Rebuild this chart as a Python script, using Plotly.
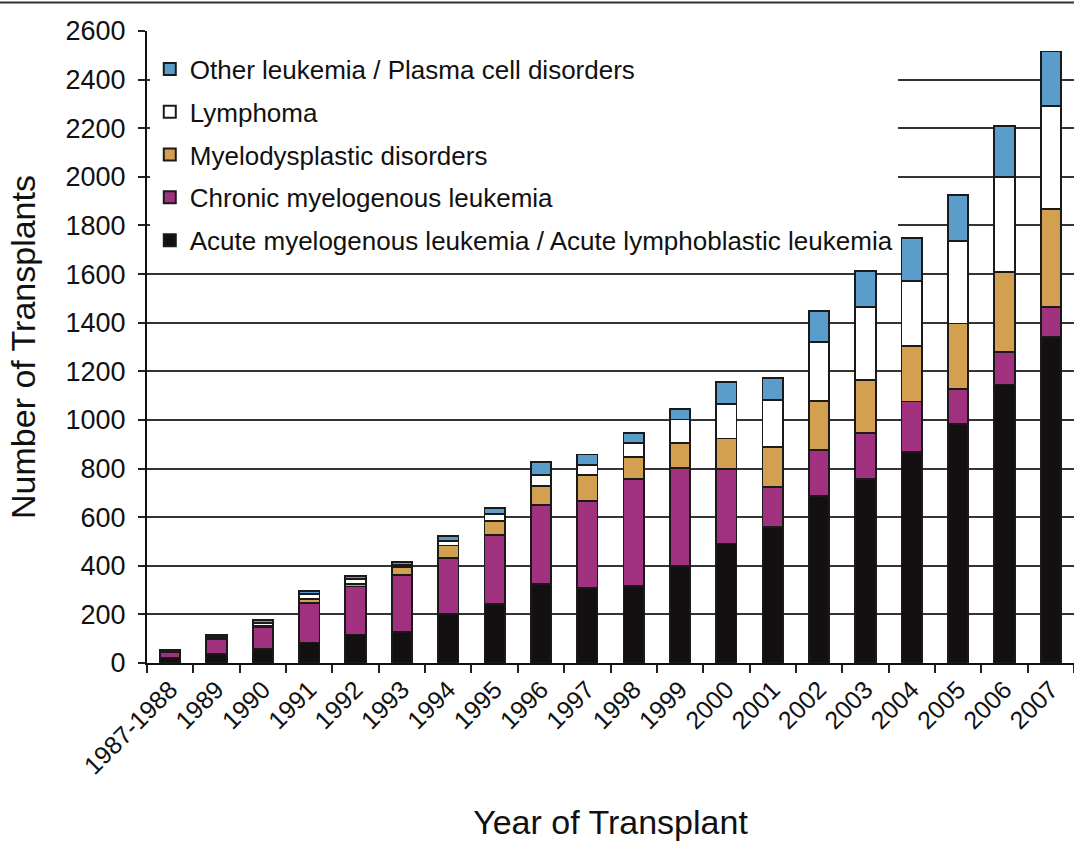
import plotly.graph_objects as go

years = ["1987-1988", "1989", "1990", "1991", "1992", "1993", "1994", "1995", "1996", "1997",
         "1998", "1999", "2000", "2001", "2002", "2003", "2004", "2005", "2006", "2007"]

aml_all = [23, 36, 56, 84, 117, 126, 200, 243, 324, 307, 317, 400, 492, 558, 688, 756, 869, 983, 1146, 1342]
cml = [22, 63, 93, 162, 198, 236, 232, 284, 326, 359, 439, 401, 307, 167, 188, 191, 207, 144, 134, 121]
mds = [2, 6, 5, 18, 11, 34, 51, 58, 78, 107, 93, 103, 125, 165, 202, 217, 229, 270, 330, 404]
lymphoma = [4, 6, 12, 20, 19, 8, 19, 27, 45, 42, 55, 98, 143, 192, 244, 299, 268, 340, 390, 425]
other = [4, 5, 10, 12, 14, 10, 22, 27, 53, 43, 41, 43, 88, 90, 126, 150, 174, 187, 210, 224]

series = [
    ("Acute myelogenous leukemia / Acute lymphoblastic leukemia", aml_all, "#141011"),
    ("Chronic myelogenous leukemia", cml, "#A0317F"),
    ("Myelodysplastic disorders", mds, "#D3A052"),
    ("Lymphoma", lymphoma, "#FFFFFF"),
    ("Other leukemia / Plasma cell disorders", other, "#5A9CCA"),
]

FONT = "Liberation Sans, Arial, sans-serif"

fig = go.Figure()
n = len(series)
for i, (name, vals, color) in enumerate(series):
    fig.add_trace(go.Bar(
        x=years, y=vals, name=name, legendgroup=f"g{i}", legendrank=n - i,
        marker=dict(color=color, line=dict(color="#1a1a1a", width=1.8)),
    ))

fig.update_layout(
    width=1074, height=844,
    barmode="stack", bargap=0.56,
    paper_bgcolor="white", plot_bgcolor="white",
    margin=dict(l=147, r=0, t=31, b=181),
    font=dict(family=FONT, color="#111111"),
    legend=dict(
        x=0.003, y=0.977, xanchor="left", yanchor="top",
        bgcolor="white", borderwidth=0,
        traceorder="grouped", tracegroupgap=6,
        font=dict(size=26, family=FONT, color="#111111"),
        itemsizing="constant",
    ),
    xaxis=dict(
        type="category", tickangle=-45, tickson="boundaries",
        ticks="outside", ticklen=8, tickwidth=1.5, tickcolor="#222",
        showline=True, linecolor="#111", linewidth=2,
        tickfont=dict(size=25, family=FONT, color="#111"),
        title=dict(text="Year of Transplant", font=dict(size=34, family=FONT, color="#111"), standoff=32),
        showgrid=False, automargin=False,
    ),
    yaxis=dict(
        range=[0, 2600], dtick=200, tick0=0,
        ticks="outside", ticklen=7, tickwidth=1.5, tickcolor="#222",
        ticklabelstandoff=7,
        showline=True, linecolor="#111", linewidth=2,
        showgrid=True, gridcolor="#333333", gridwidth=1.5,
        zeroline=False, automargin=False,
        tickfont=dict(size=27, family=FONT, color="#111"),
        title=dict(text="Number of Transplants", font=dict(size=34, family=FONT, color="#111"), standoff=20),
    ),
    shapes=[dict(type="line", xref="paper", yref="paper",
                 x0=-0.2, x1=1.05, y0=1.045, y1=1.045,
                 line=dict(color="#333", width=2))],
)

fig.write_html("out.html", config={"displayModeBar": False},
               post_script="document.body.style.margin='0';")
